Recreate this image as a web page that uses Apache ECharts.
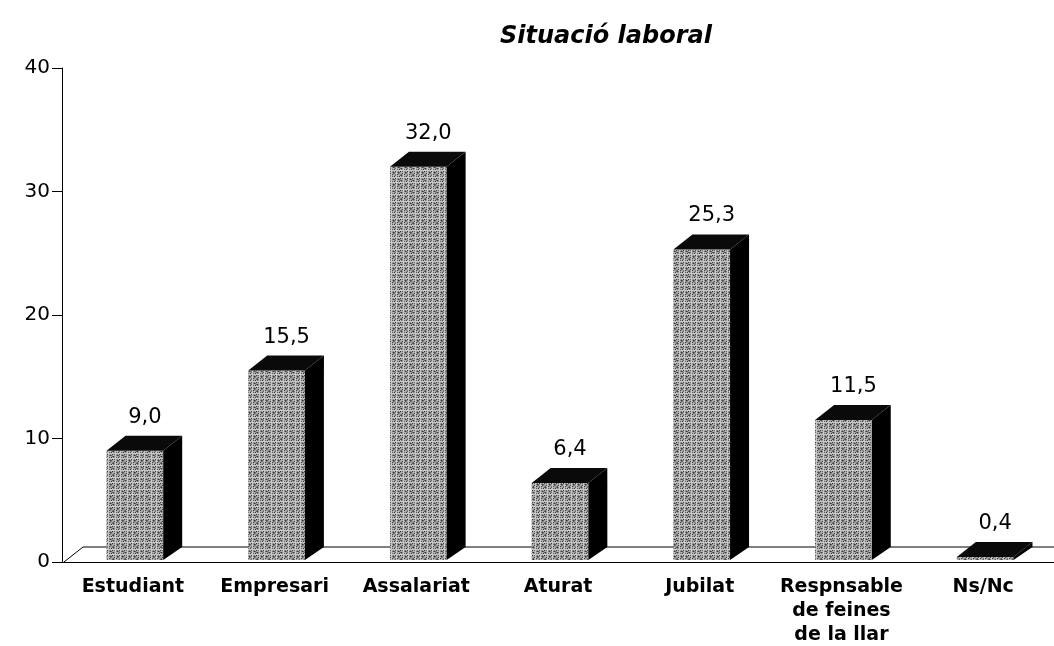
<!DOCTYPE html>
<html>
<head>
<meta charset="utf-8">
<script src="https://cdn.jsdelivr.net/npm/echarts@6/dist/echarts.min.js"></script>
<style>
  html, body { margin: 0; padding: 0; background: #fff; }
  #main { width: 1054px; height: 646px; }
</style>
</head>
<body>
<div id="main"></div>
<script>
// dades
const categories = ['Estudiant', 'Empresari', 'Assalariat', 'Aturat', 'Jubilat', 'Respnsable\nde feines\nde la llar', 'Ns/Nc']
const values = [9.0, 15.5, 32.0, 6.4, 25.3, 11.5, 0.4]
const yTicks = [0, 10, 20, 30, 40]

// profunditat 3D
const DX = 19
const DY = 15

// textura gris tramada (determinista)
function makeTexture() {
    let c = document.createElement('canvas')
    c.width = 12
    c.height = 12
    let ctx = c.getContext('2d')
    const greys = ['#c8c8c8', '#646464', '#a8a8a8', '#383838', '#bcbcbc', '#828282', '#989898']
    for (let y = 0; y < 12; y++) {
        for (let x = 0; x < 12; x++) {
            ctx.fillStyle = greys[(x * 37 + y * 91 + x * y * 13) % 7]
            ctx.fillRect(x, y, 1, 1)
        }
    }
    return c
}
const texture = { image: makeTexture(), repeat: 'repeat' }

let myChart = echarts.init(document.getElementById('main'))

function renderBar(params, api) {
    let idx = api.value(0)
    let v = api.value(1)
    let top = api.coord([idx, v])
    let base = api.coord([idx, 0])
    let w = api.size([1, 0])[0] * 0.4
    let x0 = top[0] - w / 2 + 2
    let x1 = x0 + w
    let label = v.toFixed(1).replace('.', ',')
    return {
        type: 'group',
        children: [
            {
                type: 'rect',
                shape: { x: x0, y: top[1], width: w, height: base[1] - top[1] - 2 },
                style: { fill: texture, stroke: null }
            },
            {
                type: 'polygon',
                shape: { points: [[x1, top[1]], [x1 + DX, top[1] - DY], [x1 + DX, base[1] - DY], [x1, base[1] - 2]] },
                style: { fill: '#000' }
            },
            {
                type: 'polygon',
                shape: { points: [[x0, top[1]], [x0 + DX, top[1] - DY], [x1 + DX, top[1] - DY], [x1, top[1]]] },
                style: { fill: '#0a0a0a' }
            },
            {
                type: 'text',
                style: {
                    text: label,
                    x: (x0 + x1) / 2 + 10,
                    y: top[1] - DY - 8,
                    align: 'center',
                    verticalAlign: 'bottom',
                    font: '21px "DejaVu Sans"',
                    fill: '#000'
                }
            }
        ]
    }
}

function renderFloor(params, api) {
    let cs = params.coordSys
    let yb = cs.y + cs.height
    return {
        type: 'polyline',
        shape: { points: [[cs.x + 2, yb], [cs.x + 2 + DX, yb - DY], [cs.x + cs.width, yb - DY]] },
        style: { stroke: '#000', lineWidth: 1, fill: null }
    }
}

let option = {
    animation: false,
    title: {
        text: 'Situació laboral',
        left: 495,
        top: 20,
        textStyle: {
            fontFamily: 'DejaVu Sans',
            fontWeight: 'bold',
            fontStyle: 'italic',
            fontSize: 24,
            color: '#000'
        }
    },
    grid: { left: 62, right: 0, top: 68, bottom: 84, containLabel: false, outerBoundsMode: 'none' },
    xAxis: {
        type: 'category',
        data: categories,
        axisLine: { lineStyle: { color: '#000', width: 1 } },
        axisTick: { length: 12, lineStyle: { color: '#000' } },
        axisLabel: {
            color: '#000',
            fontFamily: 'DejaVu Sans',
            fontWeight: 'bold',
            fontSize: 19,
            lineHeight: 24,
            margin: 13,
            interval: 0
        }
    },
    yAxis: {
        type: 'value',
        min: yTicks[0],
        max: yTicks[yTicks.length - 1],
        interval: 10,
        axisLine: { show: true, lineStyle: { color: '#000', width: 1 } },
        axisTick: { show: true, length: 10, lineStyle: { color: '#000' } },
        splitLine: { show: false },
        axisLabel: {
            color: '#000',
            fontFamily: 'DejaVu Sans',
            fontSize: 20,
            margin: 12
        }
    },
    series: [
        {
            type: 'custom',
            renderItem: renderFloor,
            data: [[0, 0]],
            z: 1,
            silent: true
        },
        {
            type: 'custom',
            renderItem: renderBar,
            data: values.map(function (v, i) { return [i, v] }),
            encode: { x: 0, y: 1 },
            z: 2
        }
    ]
}

myChart.setOption(option)
</script>
</body>
</html>
